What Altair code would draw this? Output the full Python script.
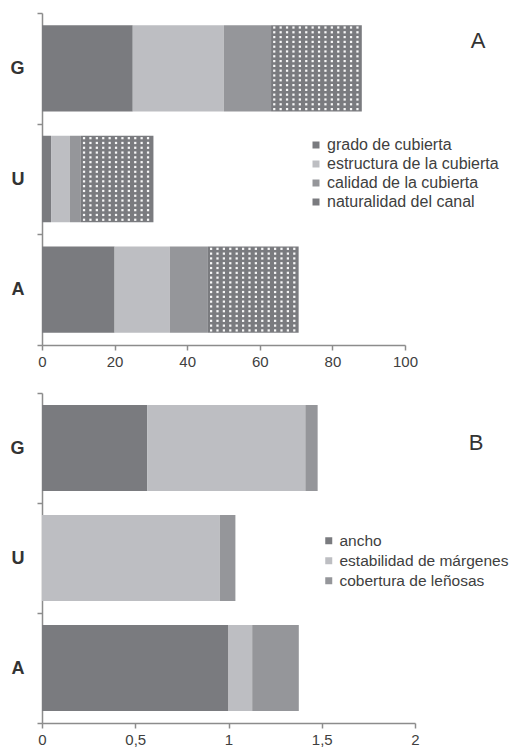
import altair as alt
import pandas as pd
import numpy as np

# categories from bottom to top
cats = ["A", "U", "G"]

# Panel A
comps_a = ["grado de cubierta", "estructura de la cubierta", "calidad de la cubierta", "naturalidad del canal"]
grado = [20.0, 2.5, 25.0]
estructura = [15.2, 5.2, 25.1]
calidad = [10.5, 3.0, 13.0]
naturalidad = [25.0, 20.0, 25.0]

# Panel B
comps_b = ["ancho", "estabilidad de márgenes", "cobertura de leñosas"]
ancho = [1.0, 0.0, 0.565]
estabilidad = [0.127, 0.953, 0.847]
cobertura = [0.25, 0.084, 0.066]

xticks_a = [0, 20, 40, 60, 80, 100]
xticks_b = [0, 0.5, 1, 1.5, 2]

DARK = "#7a7b7f"
LIGHT = "#bdbec2"
MED = "#95969a"
FONT = "Liberation Sans"
PAD = 0.11  # band padding (fraction)


def long_df(comps, series):
    rows = []
    for i, c in enumerate(cats):
        cum = 0.0
        for k, comp in enumerate(comps):
            v = series[k][i]
            rows.append(dict(cat=c, comp=comp, order=k, start=cum, end=cum + v,
                             y0=i + PAD, y1=i + 1 - PAD))
            cum += v
    return pd.DataFrame(rows)


def dots_df(df, comp, xstep, ystep):
    pts = []
    for _, r in df[df.comp == comp].iterrows():
        xs = np.arange(r.start + xstep / 2, r.end, xstep)
        ys = np.arange(r.y0 + ystep / 2, r.y1, ystep)
        for yy in ys:
            for xx in xs:
                pts.append(dict(x=xx, y=yy))
    return pd.DataFrame(pts)


label_expr = " : ".join(f"datum.value == {i + 0.5} ? '{c}'" for i, c in enumerate(cats)) + " : ''"


def panel(df, comps, colors, xdomain, xticks, width, height, comma, letter,
          legx, legy, legfont, legpad, letx, lety, dots=None):
    xaxis = alt.Axis(values=xticks, grid=False, title=None, labelFontSize=15,
                     labelColor="#404040", labelPadding=4, tickSize=5, labelFlush=False,
                     labelExpr="replace(format(datum.value, '~g'), '.', ',')" if comma
                     else "format(datum.value, 'd')")
    yaxis = alt.Axis(values=[0, 0.5, 1, 1.5, 2, 2.5, 3], grid=False, title=None,
                     labelExpr=label_expr, labelFontSize=18, labelFontWeight="bold",
                     labelColor="#333333", labelPadding=13, tickSize=5,
                     tickOpacity={"condition": {"test": "datum.value % 1 == 0", "value": 1}, "value": 0})
    xs = alt.Scale(domain=xdomain, nice=False)
    ys = alt.Scale(domain=[0, 3], nice=False, zero=False)
    bars = alt.Chart(df).mark_rect().encode(
        x=alt.X("start:Q", scale=xs, axis=xaxis),
        x2="end:Q",
        y=alt.Y("y0:Q", scale=ys, axis=yaxis),
        y2="y1:Q",
        color=alt.Color("comp:N", scale=alt.Scale(domain=comps, range=colors),
                        legend=alt.Legend(orient="none", legendX=legx, legendY=legy, title=None,
                                          symbolType="square", symbolSize=49, symbolStrokeWidth=0,
                                          labelFontSize=legfont, labelColor="#404040", labelFont=FONT,
                                          rowPadding=legpad, labelOffset=3, labelLimit=400, padding=0)),
    )
    layers = [bars]
    if dots is not None:
        layers.append(alt.Chart(dots).mark_square(size=5, color="white", opacity=0.95).encode(
            x=alt.X("x:Q", scale=xs), y=alt.Y("y:Q", scale=ys)))
    layers.append(alt.Chart(pd.DataFrame({"t": [letter]})).mark_text(
        fontSize=22, color="#333333", font=FONT).encode(
        text="t:N", x=alt.value(letx), y=alt.value(lety)))
    return alt.layer(*layers).properties(width=width, height=height)


dfa = long_df(comps_a, [grado, estructura, calidad, naturalidad])
dfb = long_df(comps_b, [ancho, estabilidad, cobertura])

W_A, H = 363, 332
dots = dots_df(dfa, "naturalidad del canal", 6.4 * 100 / W_A, 4.8 * 3 / H)

top = panel(dfa, comps_a, [DARK, LIGHT, MED, DARK], [0, 100], xticks_a, W_A, H, False, "A",
            266, 124, 16, 3, 436, 28, dots=dots)
bottom = panel(dfb, comps_b, [DARK, LIGHT, MED], [0, 2], xticks_b, 373, 330, True, "B",
               279, 140, 15.5, 3, 434, 50)

chart = alt.vconcat(top, bottom, spacing=23).resolve_scale(color="independent").configure(
    font=FONT).configure_view(stroke=None, strokeWidth=0).configure_axis(
    domainColor="#8c8c8c", domainWidth=1.5, tickColor="#8c8c8c", tickWidth=1.5,
    labelFont=FONT).properties(padding={"left": 1, "top": 4, "right": 0, "bottom": 0})

chart.save("out.html", embed_options={"renderer": "svg", "actions": False})
